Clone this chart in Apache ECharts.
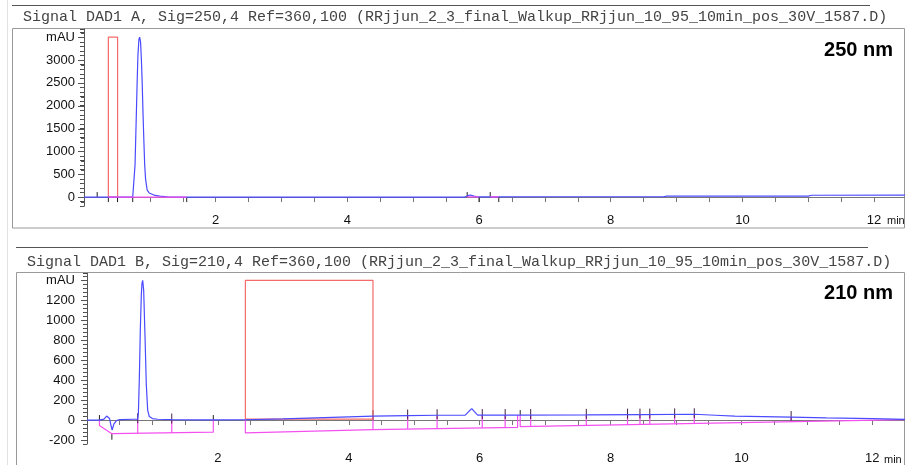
<!DOCTYPE html>
<html>
<head>
<meta charset="utf-8">
<script src="https://cdn.jsdelivr.net/npm/echarts@6/dist/echarts.min.js"></script>
<style>html,body{margin:0;padding:0;background:#fff;}#c{width:905px;height:465px;}</style>
</head>
<body>
<div id="c"></div>
<script>
// ---------- DATA ----------
const titleTop = "Signal DAD1 A, Sig=250,4 Ref=360,100 (RRjjun_2_3_final_Walkup_RRjjun_10_95_10min_pos_30V_1587.D)";
const titleBottom = "Signal DAD1 B, Sig=210,4 Ref=360,100 (RRjjun_2_3_final_Walkup_RRjjun_10_95_10min_pos_30V_1587.D)";
const labelTop = "250 nm";
const labelBottom = "210 nm";
const xUnit = "min";

const xLabelValues = [2, 4, 6, 8, 10, 12];
const xTickValues = [0.5,1,1.5,2,2.5,3,3.5,4,4.5,5,5.5,6,6.5,7,7.5,8,8.5,9,9.5,10,10.5,11,11.5,12];

const topYLabels = [0, 500, 1000, 1500, 2000, 2500, 3000, 3500];
const topYTickStep = 100;
const bottomYLabels = [-200, 0, 200, 400, 600, 800, 1000, 1200, 1400];
const bottomYTickStep = 40;

// 250 nm signal (min, mAU)
const topTime   = [0, 0.2, 0.5, 0.74, 0.758, 0.775, 0.793, 0.806, 0.819, 0.834, 0.845, 0.859, 0.872, 0.884, 0.897, 0.910, 0.922, 0.935, 0.960, 0.990, 1.02, 1.08, 1.15, 1.27, 1.5, 3.0, 5.78, 5.83, 5.87, 5.92, 5.98, 7.0, 8.8, 8.85, 11.0, 11.05, 12.5];
const topSignal = [0, 0, 0, 0, 10, 700, 1700, 2450, 3100, 3450, 3500, 3400, 3000, 2500, 1800, 1200, 700, 400, 150, 90, 60, 35, 20, 5, 0, 0, 0, 30, 45, 20, 5, 7, 7, 20, 22, 40, 42];
const topBaseStart = [0.37, 5.82, 6.17];
const topBaseEnd   = [1.56, 6.00, 6.30];
const topBaseLevel = [0, 5, 5];
const topEventsUp   = [0.2, 5.82, 6.17];
const topEventsDown = [0.37, 0.51, 0.74, 1.56, 6.0, 6.3];
const topWindow = [0.37, 0.51, 0, 3500];

// 210 nm signal
const bottomTime   = [0, 0.19, 0.26, 0.30, 0.32, 0.345, 0.365, 0.385, 0.41, 0.45, 0.5, 0.7, 0.775, 0.785, 0.80, 0.815, 0.83, 0.84, 0.851, 0.866, 0.886, 0.906, 0.927, 0.952, 1.0, 1.08, 1.3, 1.93, 2.42, 3.0, 3.5, 4.37, 4.9, 5.35, 5.78, 5.84, 5.88, 5.92, 5.97, 6.5, 7.63, 8.5, 9.28, 9.6, 9.9, 10.76, 11.3, 12.0, 12.5];
const bottomSignal = [0, 0, 10, 40, 45, 15, -50, -100, -40, -5, 5, 8, 8, 65, 425, 915, 1250, 1370, 1400, 1300, 850, 360, 100, 35, 15, 8, 5, 2, 3, 12, 22, 39, 45, 48, 50, 90, 115, 85, 50, 50, 52, 55, 58, 48, 39, 30, 22, 14, 6];
const baseATime = [0.19, 0.19, 0.38, 1.93, 1.93];
const baseAVal  = [0, -55, -137, -122, 0];
const baseBTime = [2.42, 2.42, 4.37, 6.58, 6.58];
const baseBVal  = [3, -128, -95, -73, 48];
const baseCTime = [6.62, 6.62, 12.5];
const baseCVal  = [50, -66, 5];
const dropTime   = [0.775, 1.295, 4.37, 4.90, 5.35, 6.04, 6.39, 6.78, 7.63, 8.26, 8.45, 8.60, 8.98, 9.28, 10.76];
const dropSignal = [8, 5, 39, 45, 48, 50, 50, 50, 52, 54, 55, 55, 57, 58, 30];
const dropBase   = [-135, -130, -95, -88, -84, -77, -74, -64, -55, -45, -43, -41, -35, -31, -13];
const bottomEventsUpTime  = [0.19, 1.93, 6.62];
const bottomEventsUpVal   = [0, 0, 50];
const bottomEventsDownTime = [0.38];
const bottomEventsDownVal  = [-137];
const bottomWindow = [2.42, 4.37, 10, 1400];

// ---------- BUILD ----------
const zip = (a, b) => a.map((v, i) => [v, b[i]]);
const windowPath = w => [[w[0], w[2]], [w[0], w[3]], [w[1], w[3]], [w[1], w[2]], [w[0], w[2]]];
const segs = [];
topBaseStart.forEach((s, i) => { segs.push([s, topBaseLevel[i]], [topBaseEnd[i], topBaseLevel[i]], [null, null]); });

const BLUE = '#4a4aff', MAG = '#f450f0', RED = '#f46a6a', TICK = '#222';
const FONT = 'Liberation Sans, Arial, sans-serif';
const TOP_MIN = -200, TOP_MAX = 3680, BOT_MIN = -240, BOT_MAX = 1470;

function tickRender(len) {
  return function (params, api) {
    const p = api.coord([api.value(0), api.value(1)]);
    return { type: 'line', shape: { x1: p[0], y1: p[1], x2: p[0], y2: p[1] + len },
      style: { stroke: TICK, lineWidth: 1 } };
  };
}
function dropRender(params, api) {
  const t = api.value(0);
  const a = api.coord([t, api.value(1)]);
  const b = api.coord([t, api.value(2)]);
  return { type: 'group', children: [
    { type: 'line', shape: { x1: a[0], y1: a[1], x2: b[0], y2: b[1] }, style: { stroke: MAG, lineWidth: 1.2 } },
    { type: 'line', shape: { x1: a[0], y1: a[1] - 6, x2: a[0], y2: a[1] + 4 }, style: { stroke: '#442244', lineWidth: 1 } }
  ]};
}

function xAxisCfg(gi, max) {
  return {
    type: 'value', gridIndex: gi, min: 0, max: max, position: 'bottom',
    axisLine: { show: true, lineStyle: { color: '#777', width: 1 } },
    axisTick: { show: true, length: 5, customValues: xTickValues, lineStyle: { color: '#777' } },
    axisLabel: { show: true, customValues: xLabelValues, margin: 8, fontSize: 13, color: '#111', fontFamily: FONT },
    splitLine: { show: false }
  };
}
function yAxisCfg(gi, min, max, step, labels, margin) {
  const top = labels[labels.length - 1];
  return {
    type: 'value', gridIndex: gi, min: min, max: max, interval: step, position: 'left',
    axisLine: { show: true, lineStyle: { color: '#555', width: 1 } },
    axisTick: { show: true, length: 4, lineStyle: { color: '#444', width: 1 } },
    axisLabel: { show: true, customValues: labels, margin: margin, fontSize: 13, color: '#111', fontFamily: FONT,
      formatter: v => (v === top ? 'mAU' : String(v)) },
    splitLine: { show: false }
  };
}

const chart = echarts.init(document.getElementById('c'), null, { renderer: 'canvas' });
const baseGraphics = [
  { type: 'line', shape: { x1: 7.5, y1: 0, x2: 7.5, y2: 465 }, style: { stroke: '#e2e2e2', lineWidth: 1 }, silent: true },
  { type: 'line', shape: { x1: 12, y1: 5.5, x2: 870, y2: 5.5 }, style: { stroke: '#555', lineWidth: 1 }, silent: true },
  { type: 'line', shape: { x1: 16, y1: 247.5, x2: 868, y2: 247.5 }, style: { stroke: '#555', lineWidth: 1 }, silent: true },
  { type: 'rect', shape: { x: 12.5, y: 28.5, width: 892, height: 199.5 }, style: { fill: null, stroke: '#999', lineWidth: 1 }, silent: true, z: -1 },
  { type: 'rect', shape: { x: 16.5, y: 272.5, width: 888, height: 200 }, style: { fill: null, stroke: '#999', lineWidth: 1 }, silent: true, z: -1 },
  { type: 'text', x: 23, y: 17, style: { text: titleTop, font: '15px "Liberation Mono", "Courier New", monospace', fill: '#444', verticalAlign: 'middle' }, silent: true },
  { type: 'text', x: 27, y: 262, style: { text: titleBottom, font: '15px "Liberation Mono", "Courier New", monospace', fill: '#444', verticalAlign: 'middle' }, silent: true },
  { type: 'text', x: 893, y: 50, style: { text: labelTop, font: 'bold 20px "Liberation Sans", Arial, sans-serif', fill: '#000', align: 'right', verticalAlign: 'middle' }, silent: true },
  { type: 'text', x: 893, y: 293, style: { text: labelBottom, font: 'bold 20px "Liberation Sans", Arial, sans-serif', fill: '#000', align: 'right', verticalAlign: 'middle' }, silent: true },
  { type: 'text', x: 887, y: 221, style: { text: xUnit, font: '11px "Liberation Sans", Arial, sans-serif', fill: '#111', verticalAlign: 'middle' }, silent: true },
  { type: 'text', x: 884, y: 460, style: { text: xUnit, font: '11px "Liberation Sans", Arial, sans-serif', fill: '#111', verticalAlign: 'middle' }, silent: true }
];

chart.setOption({
  animation: false,
  backgroundColor: '#fff',
  grid: [
    { left: 84, top: 29, right: 0, height: 177.2 },
    { left: 87, top: 273.3, right: 0, height: 174.5 }
  ],
  xAxis: [xAxisCfg(0, 12.47), xAxisCfg(1, 12.5)],
  yAxis: [
    yAxisCfg(0, TOP_MIN, TOP_MAX, topYTickStep, topYLabels, 9),
    yAxisCfg(1, BOT_MIN, BOT_MAX, bottomYTickStep, bottomYLabels, 12)
  ],
  series: [
    { type: 'line', xAxisIndex: 0, yAxisIndex: 0, data: windowPath(topWindow), showSymbol: false,
      lineStyle: { color: RED, width: 1.2 }, silent: true },
    { type: 'line', xAxisIndex: 0, yAxisIndex: 0, data: zip(topTime, topSignal), showSymbol: false,
      lineStyle: { color: BLUE, width: 1.2 }, silent: true },
    { type: 'line', xAxisIndex: 0, yAxisIndex: 0, data: segs, connectNulls: false, showSymbol: false,
      lineStyle: { color: MAG, width: 1.2 }, silent: true },
    { type: 'custom', xAxisIndex: 0, yAxisIndex: 0, renderItem: tickRender(-5),
      data: topEventsUp.map(t => [t, 0]), encode: { x: 0, y: 1 }, silent: true },
    { type: 'custom', xAxisIndex: 0, yAxisIndex: 0, renderItem: tickRender(5),
      data: topEventsDown.map(t => [t, 0]), encode: { x: 0, y: 1 }, silent: true },
    { type: 'line', xAxisIndex: 1, yAxisIndex: 1, data: zip(baseATime, baseAVal), showSymbol: false,
      lineStyle: { color: MAG, width: 1.2 }, silent: true },
    { type: 'line', xAxisIndex: 1, yAxisIndex: 1, data: zip(baseBTime, baseBVal), showSymbol: false,
      lineStyle: { color: MAG, width: 1.2 }, silent: true },
    { type: 'line', xAxisIndex: 1, yAxisIndex: 1, data: zip(baseCTime, baseCVal), showSymbol: false,
      lineStyle: { color: MAG, width: 1.2 }, silent: true },
    { type: 'custom', xAxisIndex: 1, yAxisIndex: 1, renderItem: dropRender,
      data: dropTime.map((t, i) => [t, dropSignal[i], dropBase[i]]), encode: { x: 0, y: [1, 2] }, silent: true },
    { type: 'line', xAxisIndex: 1, yAxisIndex: 1, data: windowPath(bottomWindow), showSymbol: false,
      lineStyle: { color: RED, width: 1.2 }, silent: true },
    { type: 'line', xAxisIndex: 1, yAxisIndex: 1, data: zip(bottomTime, bottomSignal), showSymbol: false,
      lineStyle: { color: BLUE, width: 1.2 }, silent: true },
    { type: 'custom', xAxisIndex: 1, yAxisIndex: 1, renderItem: tickRender(-5),
      data: zip(bottomEventsUpTime, bottomEventsUpVal), encode: { x: 0, y: 1 }, silent: true },
    { type: 'custom', xAxisIndex: 1, yAxisIndex: 1, renderItem: tickRender(6),
      data: zip(bottomEventsDownTime, bottomEventsDownVal), encode: { x: 0, y: 1 }, silent: true }
  ],
  graphic: baseGraphics
});

// y-axis ticks placed through the chart's own scales (major longer, minor shorter)
function axisTicks(gridIndex, min, max, step, labels) {
  const out = [];
  const start = Math.ceil(min / step) * step;
  for (let v = start; v <= max; v += step) {
    const p = chart.convertToPixel({ gridIndex: gridIndex }, [0, v]);
    if (!p) continue;
    const y = Math.round(p[1]) + 0.5;
    const major = labels.indexOf(Math.round(v)) >= 0;
    out.push({ type: 'line', silent: true, z: 10,
      shape: { x1: Math.round(p[0]) - (major ? 6 : 3), y1: y, x2: Math.round(p[0]), y2: y },
      style: { stroke: '#555', lineWidth: 1 } });
  }
  return out;
}
const tickGraphics = axisTicks(0, TOP_MIN, TOP_MAX, topYTickStep, topYLabels)
  .concat(axisTicks(1, BOT_MIN, BOT_MAX, bottomYTickStep, bottomYLabels));
chart.setOption({ graphic: baseGraphics.concat(tickGraphics) });
</script>
</body>
</html>
